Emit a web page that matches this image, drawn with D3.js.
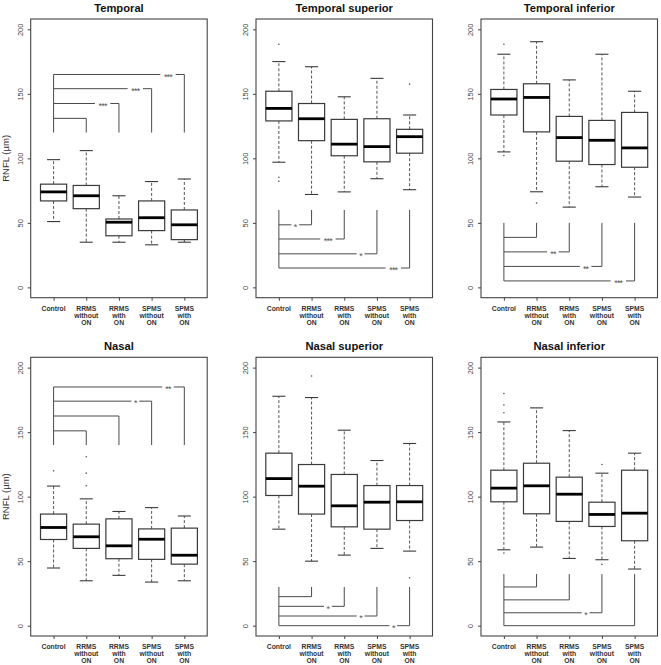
<!DOCTYPE html>
<html><head><meta charset="utf-8">
<script src="https://cdn.jsdelivr.net/npm/d3@7"></script>
<style>
body{margin:0;background:#fff}
svg{display:block}
text{font-family:"Liberation Sans",Arial,Helvetica,sans-serif}
</style>
</head><body>
<svg id="chart" width="661" height="665"></svg>
<script>
// ---- data ----
const categories = [["Control"],["RRMS","without","ON"],["RRMS","with","ON"],["SPMS","without","ON"],["SPMS","with","ON"]];
const yTicks = [0, 50, 100, 150, 200];
const panelTitles = ["Temporal","Temporal superior","Temporal inferior","Nasal","Nasal superior","Nasal inferior"];
const yLabel = "RNFL (\u00b5m)";

// [lower whisker, Q1, median, Q3, upper whisker]
const temporalBoxes = [[51,67,74,80,99],[35,61,71,79,106],[35,40,50.5,53,71],[33,44,54,67,82],[35,37,48.5,60,84]];
const temporalOutliers = [[],[],[],[],[]];
const temporalBracketBase = 120;
const temporalBracketLevels = [131,142.5,154,165];
const temporalStars = ["","***","***","***"];

const tempSupBoxes = [[97,129,138.7,152,175],[72,113.7,130.7,142.5,171],[74,102,111,130.2,147.7],[84.2,97.3,109.1,130.7,162],[75.7,104,116.8,122.5,133.6]];
const tempSupOutliers = [[188.4,85.4,82.3],[],[],[],[157.5]];
const tempSupBracketBase = 60;
const tempSupBracketLevels = [48.5,37.5,26,15];
const tempSupStars = ["*","***","*","***"];

const tempInfBoxes = [[105,133.6,146,153.4,180.7],[74.1,120.5,147.2,157.8,190.4],[62.2,97.8,116.1,132.5,160.8],[78,95.2,114,129.4,180.7],[70,93.1,108.1,135.6,152]];
const tempInfOutliers = [[188.4,102.2],[65.3],[],[],[]];
const tempInfBracketBase = 50;
const tempInfBracketLevels = [38.75,27.5,16.25,5];
const tempInfStars = ["","**","**","***"];

const nasalBoxes = [[44.7,66.8,76.1,86.5,108.2],[34.8,59.9,68.9,78.7,98.3],[39,51.9,61.9,82.8,88.5],[33.8,51.4,67,75,91.5],[34.8,47.7,54.6,75.6,85]];
const nasalOutliers = [[120],[130.9,118.2,108.4],[],[],[]];
const nasalBracketBase = 140;
const nasalBracketLevels = [151,162.5,174,185];
const nasalStars = ["","","*","**"];

const nasSupBoxes = [[74.8,100.9,114,133.7,177.8],[50,86.5,108.1,124.9,176.8],[54.7,76.6,92.9,117.2,151.5],[59.9,74.8,95.7,108.6,128],[57.8,81.5,96,108.6,141.2]];
const nasSupOutliers = [[],[193.5],[],[],[37.2]];
const nasSupBracketBase = 30;
const nasSupBracketLevels = [22.5,15,7.5,0];
const nasSupStars = ["","*","*","*"];

const nasInfBoxes = [[58.8,96,106.6,120.5,157.9],[60.9,86.7,108.4,125.9,168.8],[52.1,80.8,101.9,115.1,151.2],[51.1,76.9,86.2,95.7,118.2],[43.9,65.8,87.2,120.5,133.7]];
const nasInfOutliers = [[180,171,165,56.3],[],[],[124.9,47.5],[]];
const nasInfBracketBase = 40;
const nasInfBracketLevels = [30,20,10,0];
const nasInfStars = ["","","*",""];

// ---- panel table built from the arrays ----
const panels = [
  {title:panelTitles[0], boxes:temporalBoxes, outliers:temporalOutliers, base:temporalBracketBase, levels:temporalBracketLevels, stars:temporalStars},
  {title:panelTitles[1], boxes:tempSupBoxes, outliers:tempSupOutliers, base:tempSupBracketBase, levels:tempSupBracketLevels, stars:tempSupStars},
  {title:panelTitles[2], boxes:tempInfBoxes, outliers:tempInfOutliers, base:tempInfBracketBase, levels:tempInfBracketLevels, stars:tempInfStars},
  {title:panelTitles[3], boxes:nasalBoxes, outliers:nasalOutliers, base:nasalBracketBase, levels:nasalBracketLevels, stars:nasalStars},
  {title:panelTitles[4], boxes:nasSupBoxes, outliers:nasSupOutliers, base:nasSupBracketBase, levels:nasSupBracketLevels, stars:nasSupStars},
  {title:panelTitles[5], boxes:nasInfBoxes, outliers:nasInfOutliers, base:nasInfBracketBase, levels:nasInfBracketLevels, stars:nasInfStars}
];

// ---- layout ----
const colLeft = [30.7, 256, 481];
const rowTop = [19, 357.3];
const pw = 176.5, ph = 278.7;
const boxColor = "#3a3a3a", whiskColor = "#555", brColor = "#4a4a4a";

const svg = d3.select("#chart");

panels.forEach((p, pi) => {
  const col = pi % 3, row = Math.floor(pi / 3);
  const g = svg.append("g").attr("transform", `translate(${colLeft[col]},${rowTop[row]})`);
  const x = d3.scaleLinear().domain([0.3, 5.7]).range([0, pw]);
  const y = d3.scaleLinear().domain([-8, 208]).range([ph, 0]);
  const bw = x(1.4) - x(1); // half of 0.8 box width
  const cap = bw / 2;

  // title
  g.append("text").attr("x", pw/2).attr("y", -7).attr("text-anchor","middle")
    .attr("font-size", 11.2).attr("font-weight","bold").attr("fill","#111").text(p.title);

  // y axis
  const yAxis = d3.axisLeft(y).tickValues(yTicks).tickSize(3).tickSizeOuter(0).tickFormat(d3.format("d"));
  const ya = g.append("g").call(yAxis);
  ya.select(".domain").remove();
  ya.selectAll(".tick line").attr("stroke","#444");
  ya.selectAll(".tick text").attr("font-size",7.5).attr("fill","#444")
    .attr("transform","rotate(-90)").attr("x",0).attr("y",-8).attr("dy","0").attr("text-anchor","middle")
    .attr("font-family",'"Liberation Sans",Arial,sans-serif');

  // x axis
  const xAxis = d3.axisBottom(x).tickValues([1,2,3,4,5]).tickSize(3).tickSizeOuter(0).tickFormat("");
  const xa = g.append("g").attr("transform",`translate(0,${ph})`).call(xAxis);
  xa.select(".domain").remove();
  xa.selectAll(".tick line").attr("stroke","#444");
  categories.forEach((lines, i) => {
    const t = g.append("text").attr("x", x(i+1)).attr("y", ph + 13.5).attr("text-anchor","middle")
      .attr("font-size", 6.8).attr("fill","#333").attr("font-weight","bold");
    lines.forEach((ln, k) => t.append("tspan").attr("x", x(i+1)).attr("dy", k === 0 ? 0 : 6.7).text(ln));
  });

  // y label
  if (col === 0) {
    g.append("text").attr("transform",`translate(${-colLeft[0]+9},${ph/2}) rotate(-90)`)
      .attr("text-anchor","middle").attr("font-size",9.5).attr("fill","#333").text(yLabel);
  }

  // boxes
  p.boxes.forEach((b, i) => {
    const cx = x(i+1);
    const [lo, q1, md, q3, hi] = b;
    g.append("line").attr("x1",cx).attr("x2",cx).attr("y1",y(q3)).attr("y2",y(hi))
      .attr("stroke",whiskColor).attr("stroke-width",1).attr("stroke-dasharray","3,2");
    g.append("line").attr("x1",cx).attr("x2",cx).attr("y1",y(q1)).attr("y2",y(lo))
      .attr("stroke",whiskColor).attr("stroke-width",1).attr("stroke-dasharray","3,2");
    g.append("line").attr("x1",cx-cap).attr("x2",cx+cap).attr("y1",y(hi)).attr("y2",y(hi))
      .attr("stroke",boxColor).attr("stroke-width",1.1);
    g.append("line").attr("x1",cx-cap).attr("x2",cx+cap).attr("y1",y(lo)).attr("y2",y(lo))
      .attr("stroke",boxColor).attr("stroke-width",1.1);
    g.append("rect").attr("x",cx-bw).attr("width",2*bw).attr("y",y(q3)).attr("height",y(q1)-y(q3))
      .attr("fill","#fff").attr("stroke",boxColor).attr("stroke-width",1.2);
    g.append("line").attr("x1",cx-bw).attr("x2",cx+bw).attr("y1",y(md)).attr("y2",y(md))
      .attr("stroke","#000").attr("stroke-width",2.8);
    p.outliers[i].forEach(o => {
      g.append("circle").attr("cx",cx).attr("cy",y(o)).attr("r",0.8).attr("fill","#555");
    });
  });

  // brackets
  const farLevel = p.levels[p.levels.length-1];
  g.append("line").attr("x1",x(1)).attr("x2",x(1)).attr("y1",y(p.base)).attr("y2",y(farLevel))
    .attr("stroke",brColor).attr("stroke-width",1);
  p.levels.forEach((lv, k) => {
    const gx = x(k+2);
    g.append("line").attr("x1",gx).attr("x2",gx).attr("y1",y(p.base)).attr("y2",y(lv))
      .attr("stroke",brColor).attr("stroke-width",1);
    g.append("line").attr("x1",x(1)).attr("x2",gx).attr("y1",y(lv)).attr("y2",y(lv))
      .attr("stroke",brColor).attr("stroke-width",1);
    const s = p.stars[k];
    if (s) {
      const sx = x(k+1.5);
      const w = 4 + s.length * 3.8;
      g.append("rect").attr("x",sx-w/2).attr("y",y(lv)-3).attr("width",w).attr("height",6).attr("fill","#fff");
      g.append("text").attr("x",sx).attr("y",y(lv)+5.3).attr("text-anchor","middle")
        .attr("font-size",9).attr("fill","#555").attr("letter-spacing",-0.8).text(s);
    }
  });

  // frame
  g.append("rect").attr("x",0).attr("y",0).attr("width",pw).attr("height",ph)
    .attr("fill","none").attr("stroke","#444").attr("stroke-width",1.1);
});
</script>
</body></html>
